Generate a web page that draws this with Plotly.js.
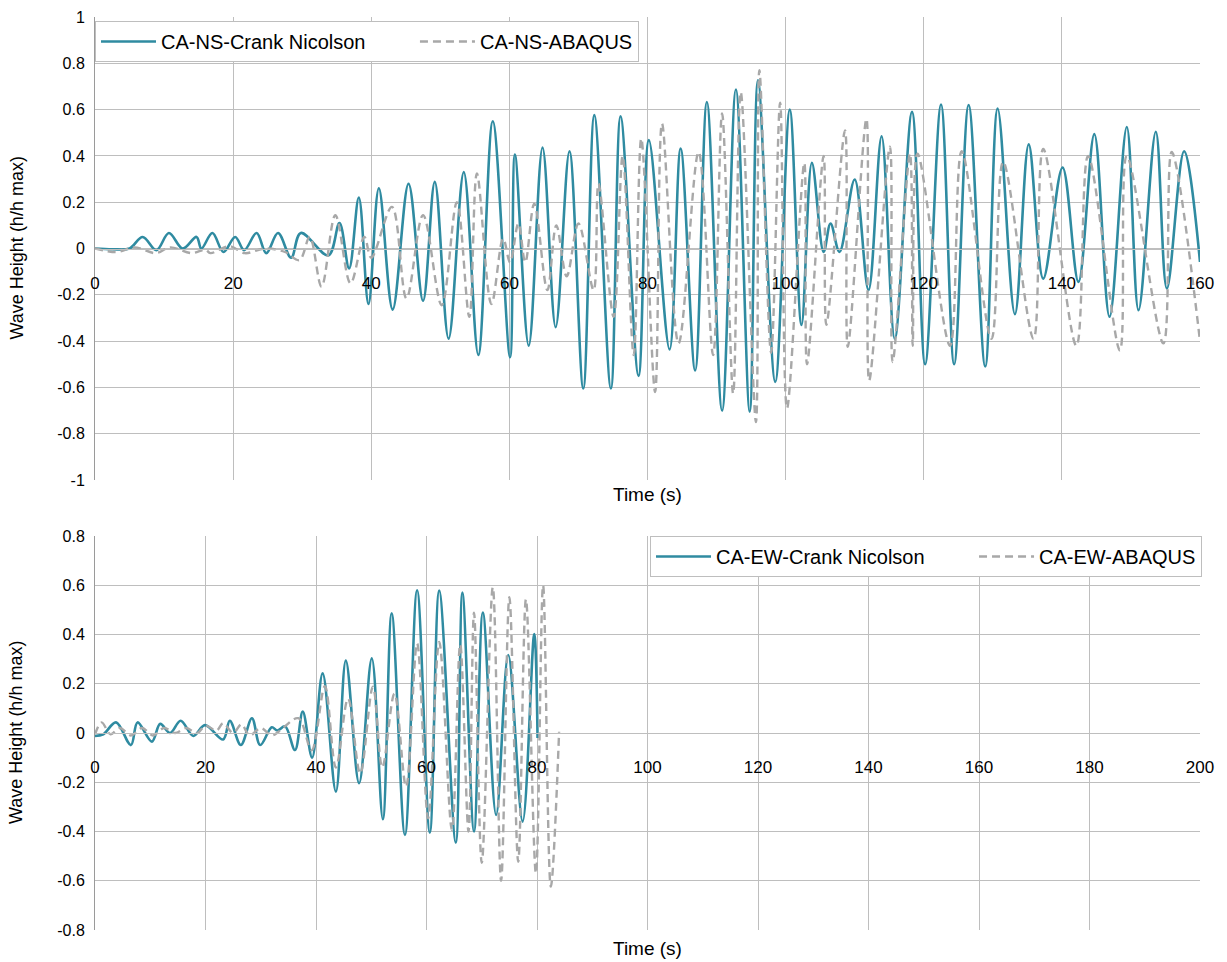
<!DOCTYPE html>
<html>
<head>
<meta charset="utf-8">
<script src="https://cdn.plot.ly/plotly-3.0.1.min.js"></script>
<style>html,body{margin:0;padding:0;background:#fff;}#chart{width:1227px;height:962px;}</style>
</head>
<body>
<div id="chart"></div>
<script>
// ---------- DATA ----------
// Top panel: CA-NS
var nsCrankTime = [0,2.5,5.0,6.9,8.9,10.7,12.7,14.7,15.4,17.0,18.6,20.3,21.6,23.4,24.8,26.5,28.4,29.8,33.8,35.4,36.8,38.2,39.6,41.1,43.1,45.4,47.5,49.2,51.2,53.4,55.5,57.6,60.1,60.8,62.8,64.8,66.7,68.7,70.7,72.3,74.7,76.1,78.7,80.2,83.2,84.8,86.9,88.6,90.8,92.8,94.8,96.0,98.5,100.6,102.3,103.8,105.5,106.5,107.8,110.0,112.0,113.9,115.8,118.3,120.2,122.5,124.4,126.5,128.9,130.7,133.2,135.2,137.3,140.1,142.4,144.7,146.9,149.4,151.1,153.6,155.2,157.7,160];
var nsCrankValue = [0,-0.003,0.0,0.05,-0.007,0.067,0.0,0.05,0.0,0.067,-0.015,0.05,-0.007,0.067,-0.02,0.067,-0.04,0.067,-0.03,0.11,-0.086,0.22,-0.24,0.26,-0.264,0.28,-0.226,0.288,-0.39,0.33,-0.46,0.55,-0.47,0.406,-0.42,0.436,-0.34,0.42,-0.605,0.576,-0.605,0.571,-0.55,0.468,-0.436,0.432,-0.527,0.633,-0.70,0.687,-0.705,0.727,-0.576,0.60,-0.33,0.37,-0.015,0.108,-0.015,0.298,-0.18,0.485,-0.39,0.59,-0.50,0.622,-0.50,0.62,-0.51,0.605,-0.284,0.45,-0.13,0.35,-0.144,0.494,-0.295,0.525,-0.267,0.504,-0.173,0.42,-0.058];

var nsAbaqusTime = [0,1.5,3.3,5.7,8.8,10.9,14.0,16.0,16.7,19.5,21.7,24.6,27.5,29.6,31.1,32.8,34.8,37.0,39.0,40.0,43.0,45.1,47.5,50.2,52.4,54.2,55.3,57.4,59.1,60.1,61.3,62.3,63.6,65.5,66.8,68.3,70.0,72.2,72.9,75.1,76.4,78.0,79.1,81.1,82.1,84.5,87.4,89.5,90.8,92.4,93.5,95.7,96.2,97.9,99.2,100.2,102.7,103.1,105.5,105.9,108.6,109.0,111.7,112.1,115.1,115.5,118.0,118.4,119.1,123.8,125.5,129.8,131.5,135.9,137.3,142.1,143.8,148.4,149.4,154.7,155.9,160];
var nsAbaqusValue = [0,-0.01,-0.015,0.005,-0.02,0.005,-0.02,-0.005,-0.02,0.01,-0.02,0.0,-0.015,-0.05,0.05,-0.165,0.144,-0.15,0.05,-0.04,0.18,-0.216,0.144,-0.245,0.20,-0.295,0.324,-0.24,0.043,-0.06,0.108,-0.06,0.194,-0.18,0.10,-0.12,0.108,-0.18,0.28,-0.295,0.40,-0.46,0.475,-0.62,0.54,-0.41,0.417,-0.46,0.583,-0.627,0.676,-0.75,0.77,-0.45,0.63,-0.69,0.37,-0.50,0.40,-0.33,0.51,-0.425,0.56,-0.57,0.44,-0.49,0.41,-0.42,0.41,-0.42,0.42,-0.39,0.374,-0.39,0.43,-0.42,0.40,-0.44,0.40,-0.41,0.417,-0.40];

// Bottom panel: CA-EW
var ewCrankTime = [0,1.5,3.8,6.5,7.7,10.3,11.8,13.6,15.5,17.8,19.9,23.2,24.4,26.4,28.4,29.9,32.0,33.0,34.4,36.2,37.6,39.3,41.2,43.6,45.4,47.8,50.1,52.1,53.7,56.1,58.3,60.6,62.3,65.3,66.5,68.6,70.2,72.6,74.8,77.4,79.5,80.1];
var ewCrankValue = [-0.012,-0.005,0.043,-0.049,0.043,-0.035,0.037,0.0,0.05,-0.012,0.032,-0.026,0.05,-0.049,0.06,-0.049,0.023,0.01,0.027,-0.069,0.087,-0.10,0.242,-0.238,0.294,-0.204,0.303,-0.35,0.486,-0.414,0.58,-0.405,0.578,-0.445,0.57,-0.40,0.489,-0.333,0.317,-0.36,0.402,-0.02];

var ewAbaqusTime = [0,1.2,2.8,4.5,6.5,8.5,10.5,12.5,14.5,16.5,18.5,20.0,22.0,23.2,25.0,26.5,28.0,30.0,32.0,33.5,36.8,39.2,41.6,43.6,45.8,48.0,50.3,52.0,54.2,56.3,58.3,60.3,62.3,64.6,66.1,67.6,68.6,70.0,72.0,73.5,75.0,76.6,78.0,79.8,81.1,82.5,84.0];
var ewAbaqusValue = [-0.005,0.043,-0.005,0.02,-0.01,0.02,-0.01,0.02,0.0,0.02,0.0,0.03,0.01,0.04,0.0,0.035,-0.01,0.02,-0.01,0.01,0.06,-0.07,0.19,-0.14,0.14,-0.164,0.188,-0.14,0.16,-0.218,0.364,-0.346,0.37,-0.394,0.36,-0.40,0.489,-0.527,0.592,-0.60,0.551,-0.523,0.543,-0.57,0.60,-0.624,0.005];

// Series names and tick labels
var seriesNames = ['CA-NS-Crank Nicolson', 'CA-NS-ABAQUS', 'CA-EW-Crank Nicolson', 'CA-EW-ABAQUS'];
var nsXTicks = [0,20,40,60,80,100,120,140,160];
var nsYTicks = [-1,-0.8,-0.6,-0.4,-0.2,0,0.2,0.4,0.6,0.8,1];
var nsYLabels = ['-1','-0.8','-0.6','-0.4','-0.2','0','0.2','0.4','0.6','0.8','1'];
var ewXTicks = [0,20,40,60,80,100,120,140,160,180,200];
var ewYTicks = [-0.8,-0.6,-0.4,-0.2,0,0.2,0.4,0.6,0.8];
var ewYLabels = ['-0.8','-0.6','-0.4','-0.2','0','0.2','0.4','0.6','0.8'];

// ---------- STYLE ----------
var W = 1227, H = 962;
var TEAL = '#2f8ba1', GREY = '#a8a8a8', GRID = '#bebebe', AXIS = '#9a9a9a';
var FONT = 'Liberation Sans, Arial, sans-serif';
var PAD = '\u00a0\u00a0\u00a0\u00a0\u00a0\u00a0\u00a0\u00a0'; // spacing between legend entries

var xDom = [95 / W, 1200 / W];
var topDom = [1 - 480 / H, 1 - 17 / H];
var botDom = [1 - 930 / H, 1 - 536 / H];

function xAxis(ticks, range, dom) {
  return {
    domain: xDom, range: range, anchor: 'free', position: (dom[0] + dom[1]) / 2,
    tickmode: 'array', tickvals: ticks, ticktext: ticks.map(String),
    showgrid: true, gridcolor: GRID, gridwidth: 1,
    showline: true, linecolor: GRID, linewidth: 1,
    zeroline: false, ticks: 'outside', ticklen: 19, tickcolor: 'rgba(0,0,0,0)',
    tickfont: {family: FONT, size: 17, color: '#000'}, fixedrange: true
  };
}
function yAxis(ticks, labels, range, dom, xname) {
  return {
    domain: dom, range: range, anchor: xname,
    tickmode: 'array', tickvals: ticks, ticktext: labels,
    showgrid: true, gridcolor: GRID, gridwidth: 1,
    showline: true, linecolor: AXIS, linewidth: 1,
    zeroline: false, ticks: 'outside', ticklen: 6, tickcolor: 'rgba(0,0,0,0)',
    tickfont: {family: FONT, size: 16, color: '#000'}, fixedrange: true
  };
}

var traces = [
  {x: nsCrankTime, y: nsCrankValue, xaxis: 'x', yaxis: 'y', name: seriesNames[0] + PAD,
   mode: 'lines', line: {color: TEAL, width: 2.6, shape: 'spline', smoothing: 1}, legend: 'legend'},
  {x: nsAbaqusTime, y: nsAbaqusValue, xaxis: 'x', yaxis: 'y', name: seriesNames[1],
   mode: 'lines', line: {color: GREY, width: 2.4, dash: '8px,5px', shape: 'spline', smoothing: 1}, legend: 'legend'},
  {x: ewCrankTime, y: ewCrankValue, xaxis: 'x2', yaxis: 'y2', name: seriesNames[2] + PAD,
   mode: 'lines', line: {color: TEAL, width: 2.6, shape: 'spline', smoothing: 1}, legend: 'legend2'},
  {x: ewAbaqusTime, y: ewAbaqusValue, xaxis: 'x2', yaxis: 'y2', name: seriesNames[3],
   mode: 'lines', line: {color: GREY, width: 2.4, dash: '8px,5px', shape: 'spline', smoothing: 1}, legend: 'legend2'}
];

var legendCommon = {
  orientation: 'h', bgcolor: '#ffffff', bordercolor: GRID, borderwidth: 1,
  font: {family: FONT, size: 20, color: '#000'}, itemwidth: 55,
  traceorder: 'normal', itemclick: false, itemdoubleclick: false
};

var layout = {
  width: W, height: H, margin: {l: 0, r: 0, t: 0, b: 0},
  paper_bgcolor: '#ffffff', plot_bgcolor: '#ffffff',
  font: {family: FONT, size: 16, color: '#000'},
  showlegend: true, hovermode: false,
  xaxis: xAxis(nsXTicks, [0, 160], topDom),
  yaxis: yAxis(nsYTicks, nsYLabels, [-1, 1], topDom, 'x'),
  xaxis2: xAxis(ewXTicks, [0, 200], botDom),
  yaxis2: yAxis(ewYTicks, ewYLabels, [-0.8, 0.8], botDom, 'x2'),
  legend: Object.assign({}, legendCommon, {x: 95 / W, xanchor: 'left', y: 1 - 21 / H, yanchor: 'top'}),
  legend2: Object.assign({}, legendCommon, {x: 1202 / W, xanchor: 'right', y: 1 - 536 / H, yanchor: 'top'}),
  annotations: [
    {text: 'Time (s)', xref: 'paper', yref: 'paper', x: (xDom[0] + xDom[1]) / 2, y: 1 - 495 / H,
     showarrow: false, xanchor: 'center', yanchor: 'middle', font: {family: FONT, size: 19, color: '#000'}},
    {text: 'Time (s)', xref: 'paper', yref: 'paper', x: (xDom[0] + xDom[1]) / 2, y: 1 - 948 / H,
     showarrow: false, xanchor: 'center', yanchor: 'middle', font: {family: FONT, size: 19, color: '#000'}},
    {text: 'Wave Height (h/h max)', xref: 'paper', yref: 'paper', x: 16 / W, y: (topDom[0] + topDom[1]) / 2,
     showarrow: false, textangle: -90, xanchor: 'center', yanchor: 'middle', font: {family: FONT, size: 18, color: '#000'}},
    {text: 'Wave Height (h/h max)', xref: 'paper', yref: 'paper', x: 16 / W, y: (botDom[0] + botDom[1]) / 2,
     showarrow: false, textangle: -90, xanchor: 'center', yanchor: 'middle', font: {family: FONT, size: 18, color: '#000'}}
  ]
};

Plotly.newPlot('chart', traces, layout, {displayModeBar: false, staticPlot: true, responsive: false});
</script>
</body>
</html>
